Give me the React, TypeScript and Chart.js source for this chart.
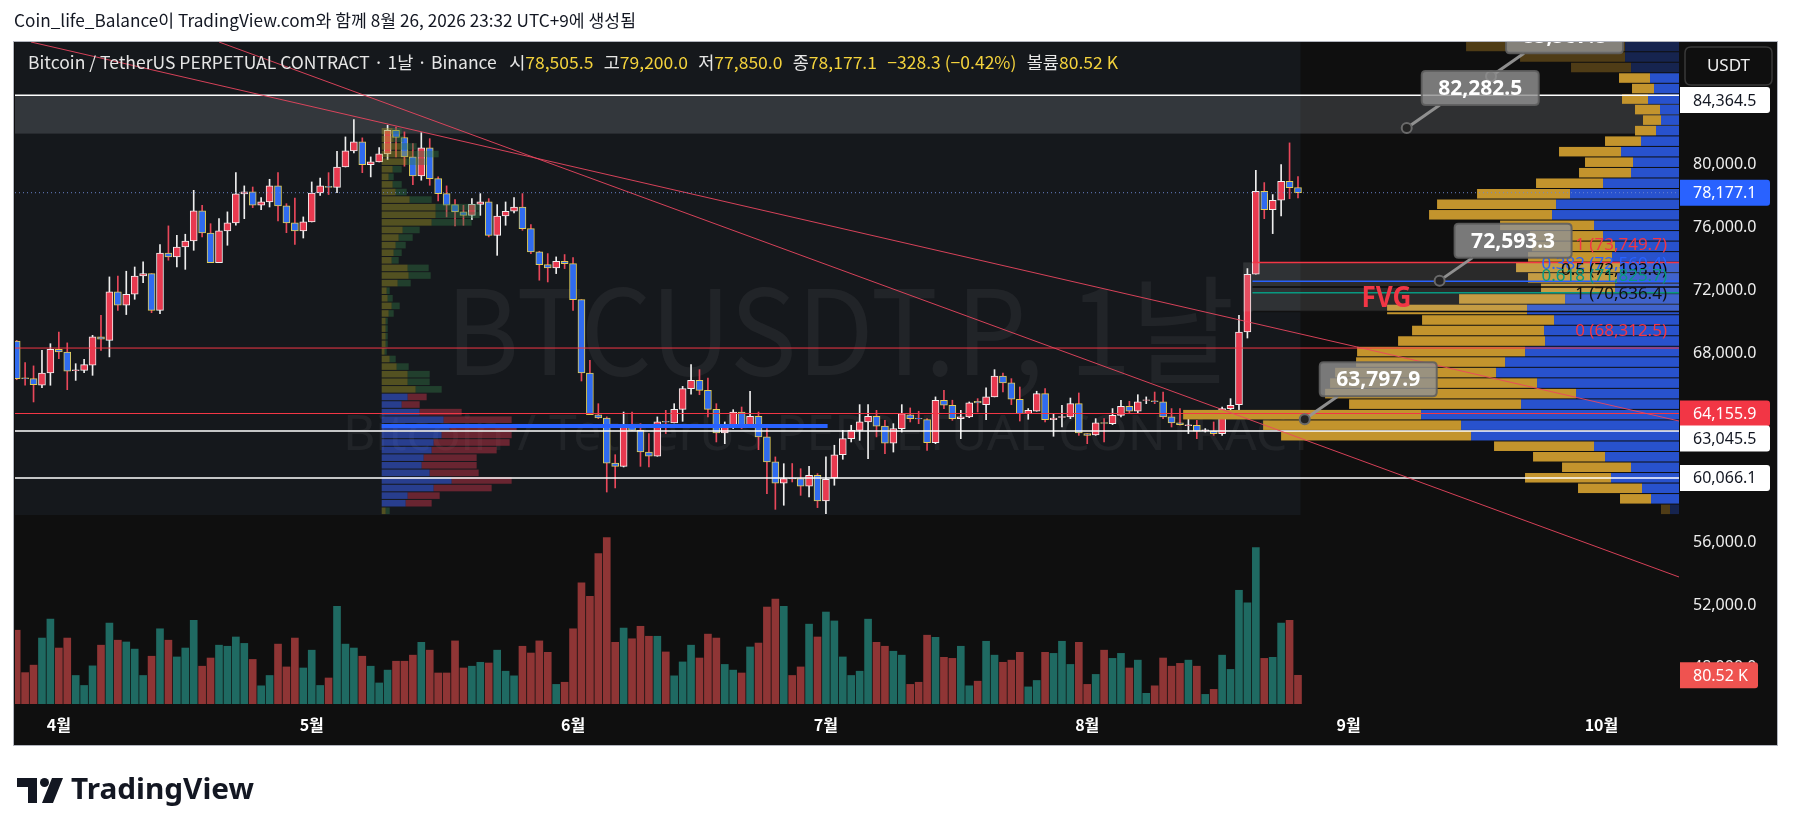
import { useEffect, useRef } from "react";
import { Chart, registerables } from "chart.js";

Chart.register(...registerables);

// ---------------- data (daily candles, index 0 = 3월 27일) ----------------
const openP = [
  68760, 66420, 66370, 65950, 66730, 68230, 68060, 66880, 66900, 67220,
  69020, 68800, 71880, 71030, 71730, 72890, 73040, 70710, 74350, 74100,
  74730, 75110, 77020, 75620, 73740, 75750, 76260, 78100, 78230, 77380,
  77590, 78610, 77340, 76260, 75750, 76320, 78160, 78580, 78520, 79810,
  80830, 81400, 79960, 80130, 80640, 82140, 81680, 80450, 79240, 81020,
  79070, 78120, 77420, 76960, 76740, 77440, 77590, 75470, 76700, 77000,
  77270, 75900, 74420, 73610, 73400, 73820, 73670, 71390, 66730, 64080,
  63870, 61010, 60800, 63300, 63090, 61710, 61440, 63660, 63560, 64420,
  65740, 66260, 65630, 64420, 62920, 63410, 64250, 63300, 63980, 62670,
  61080, 59740, 60050, 60020, 59550, 60230, 58600, 60060, 61540, 62560,
  63090, 63620, 63980, 63360, 62280, 63200, 64080, 63850, 63770, 62310,
  65000, 64680, 63830, 63940, 64930, 64720, 65210, 66540, 66100, 65060,
  64150, 64300, 65420, 63770, 63910, 63940, 64780, 62880, 62790, 63580,
  63510, 64040, 64610, 64300, 64980, 64960, 64890, 63940, 63560, 63390,
  63410, 63070, 63030, 62880, 64470, 64720, 69330, 73000, 78270, 77100,
  77700, 78900, 78505.5,
];
const highP = [
  68800, 67390, 67180, 68170, 68590, 69330, 68640, 67320, 67600, 69120,
  70390, 72830, 72890, 73190, 73460, 73780, 73040, 74880, 76070, 75470,
  75540, 78330, 77380, 76210, 76530, 76960, 79450, 78610, 78540, 77870,
  79030, 79450, 77480, 77840, 76640, 78860, 79110, 79450, 80810, 81720,
  82820, 81660, 80450, 81040, 82460, 82350, 82040, 81300, 81990, 81610,
  79180, 78610, 77740, 77380, 77800, 78120, 77800, 77420, 77590, 77870,
  78120, 76150, 74460, 74310, 74100, 74250, 74060, 71390, 67540, 64780,
  63940, 61540, 64250, 64250, 63510, 62880, 63940, 64360, 64780, 65880,
  67260, 66940, 66410, 64780, 63620, 64400, 64570, 65570, 64250, 63200,
  61400, 60970, 60980, 60650, 60800, 60340, 61400, 62140, 63090, 63410,
  64720, 64720, 64360, 63720, 63510, 64720, 64510, 64300, 63830, 65210,
  65630, 65000, 64360, 64890, 65100, 65780, 66940, 66730, 66370, 65840,
  64470, 65570, 65740, 64150, 64680, 65140, 65460, 62880, 63830, 63830,
  64470, 65000, 64930, 65350, 65210, 65520, 65520, 64470, 64470, 63940,
  63720, 63200, 63620, 64570, 65100, 70390, 73360, 79600, 78820, 78060,
  79960, 81340, 79200,
];
const lowP = [
  66300, 65950, 64890, 65800, 65950, 67640, 65670, 66260, 66750, 66580,
  68170, 67750, 70710, 70440, 71410, 72470, 70560, 70500, 73890, 73460,
  73310, 74520, 75370, 73740, 73740, 74840, 76110, 76530, 77230, 77100,
  77270, 76380, 75640, 74900, 75300, 76320, 78010, 78060, 78180, 79810,
  80700, 79450, 79180, 80130, 80280, 80450, 79860, 78690, 78970, 78650,
  77650, 76640, 76070, 76110, 76470, 76740, 75370, 74200, 76110, 76890,
  75790, 74310, 72620, 72510, 73040, 73360, 70710, 66220, 64080, 63830,
  59170, 59430, 60760, 63090, 60800, 60760, 61440, 62880, 63560, 63660,
  65380, 65350, 63940, 62350, 62240, 63200, 63200, 63300, 61860, 59070,
  58070, 58330, 59810, 58960, 58860, 58180, 57800, 59600, 61250, 62350,
  62450, 61290, 62670, 61610, 61710, 62980, 63620, 63510, 61820, 62240,
  64470, 63720, 62560, 63890, 64250, 63770, 65210, 65520, 64720, 63680,
  63790, 64300, 63620, 62710, 63300, 63830, 62770, 62240, 62770, 62350,
  63450, 63940, 64150, 64150, 64780, 64780, 63830, 63300, 63410, 62880,
  62560, 62980, 62770, 62770, 64080, 64150, 68950, 73000, 76530, 75580,
  76700, 77800, 77850,
];
const closeP = [
  66370, 66370, 65990, 66730, 68230, 68060, 66840, 66920, 67260, 69020,
  68870, 71880, 71030, 71730, 72890, 73040, 70710, 74350, 74100, 74730,
  75110, 77020, 75620, 73740, 75750, 76260, 78100, 78230, 77380, 77590,
  78610, 77340, 76260, 75750, 76320, 78160, 78610, 78520, 79810, 80830,
  81400, 79960, 80130, 80640, 82140, 81680, 80450, 79240, 81020, 79070,
  78120, 77380, 76960, 76740, 77440, 77590, 75470, 76700, 77000, 77270,
  75900, 74420, 73610, 73400, 73820, 73670, 71390, 66730, 64080, 63870,
  61010, 60800, 63300, 63090, 61710, 61440, 63620, 63600, 64420, 65740,
  66260, 65630, 64420, 62920, 63410, 64250, 63300, 63980, 62670, 61080,
  59740, 60020, 60000, 59550, 60230, 58600, 59980, 61540, 62560, 63090,
  63620, 63980, 63360, 62280, 63200, 64150, 63830, 63810, 62310, 65000,
  64680, 63830, 63940, 64830, 64830, 65210, 66540, 66100, 65060, 64150,
  64360, 65420, 63770, 63870, 63960, 64780, 62920, 62770, 63560, 63530,
  64040, 64610, 64300, 64890, 65010, 64910, 63940, 63560, 63450, 63420,
  63030, 63100, 62880, 64470, 64680, 69330, 73000, 78270, 77100, 77700,
  78900, 78500, 78177.1,
];
const volumeK = [
  207, 88, 109, 185, 238, 157, 185, 80, 52, 107,
  165, 227, 179, 174, 154, 80, 134, 211, 179, 132,
  157, 235, 106, 129, 165, 162, 188, 170, 125, 51,
  80, 168, 104, 185, 101, 151, 52, 73, 274, 168,
  157, 134, 106, 59, 95, 120, 120, 137, 173, 151,
  87, 87, 177, 101, 106, 117, 115, 151, 92, 79,
  162, 143, 177, 145, 55, 61, 211, 340, 302, 422,
  467, 173, 213, 183, 218, 190, 190, 146, 79, 118,
  165, 129, 196, 185, 111, 95, 87, 160, 171, 272,
  294, 274, 80, 104, 224, 188, 258, 233, 132, 80,
  92, 238, 173, 162, 148, 137, 55, 61, 193, 187,
  131, 128, 162, 51, 64, 176, 137, 117, 123, 145,
  48, 66, 145, 142, 176, 111, 173, 55, 83, 151,
  128, 142, 101, 123, 30, 51, 129, 106, 114, 123,
  106, 27, 41, 137, 97, 319, 284, 439, 128, 131,
  227, 235, 80.52,
];

const monthTickIdx = [5, 35, 66, 96, 127, 158, 188];
const monthLabels = ["4월", "5월", "6월", "7월", "8월", "9월", "10월"];
const priceTicks = [48000, 52000, 56000, 68000, 72000, 76000, 80000];
const xMin = -0.2;
const xMax = 197.2;
const yMin = 45710;
const yMax = 87747;
const volAxisMax = 1857;

// right-edge volume profile (rows bottom -> top)
const rvpLow = 57705;
const rvpStep = 668;
const rvpGold = [9, 31, 64, 86, 69, 72, 100, 190, 198, 238, 172, 251, 207, 161, 149, 168, 147, 132, 132, 140, 106, 74, 89, 104, 84, 83, 73, 94, 123, 119, 93, 67, 52, 48, 62, 36, 21, 18, 25, 26, 22, 31, 60, 105, 159];
const rvpBlue = [9, 28, 37, 68, 48, 74, 85, 208, 218, 258, 158, 103, 142, 183, 174, 154, 134, 135, 125, 152, 114, 64, 62, 59, 67, 64, 76, 85, 127, 123, 109, 76, 48, 46, 58, 38, 23, 18, 19, 31, 25, 29, 48, 54, 54];
const rvpFadedRows = [0, 42, 43, 44];
const rvpWidthFrac = 0.298;

// session volume profile (rows bottom -> top)
const lvpLow = 57705;
const lvpStep = 482;
const lvpStartIdx = 43.3;
const lvpUp = [4, 24, 26, 52, 70, 48, 40, 42, 50, 52, 60, 68, 62, 38, 20, 26, 34, 26, 26, 15, 8, 3, 4, 4, 4, 4, 7, 10, 6, 5, 16, 27, 26, 10, 12, 14, 17, 21, 50, 54, 54, 28, 14, 11, 7, 11, 25, 31, 19, 12, 11];
const lvpDown = [4, 26, 32, 58, 60, 49, 55, 53, 65, 76, 70, 67, 68, 42, 18, 19, 26, 22, 22, 12, 6, 2, 2, 2, 2, 2, 5, 8, 5, 3, 13, 22, 21, 7, 8, 10, 14, 17, 40, 44, 44, 22, 11, 9, 5, 9, 20, 26, 16, 10, 9];
const lvpVaFrom = 1;
const lvpVaTo = 15;
const lvpWidthFrac = 0.0811;
const lvpPocPrice = 63363;
const lvpPocEndIdx = 96.2;

// horizontal lines
const hLinePrices = [84364.5, 68312.5, 64155.9, 63045.5, 60066.1];
const hLineColors = ["#ffffff", "#f23645", "#f23645", "#ffffff", "#ffffff"];
const hLineWidths = [1.5, 1, 1, 1.5, 1.5];
const hLineLabelled = [true, false, true, true, true];
const lastPrice = 78177.1;

// trend lines [idx, price]
const trendA = [[1.7, 87747], [197.2, 63680]];
const trendB = [[24.0, 87747], [197.2, 53775]];

// zones
const bandHigh = 84364.5;
const bandLow = 81930;
const rangeEndIdx = 152.3;
const rangeLow = 57705;

// fib / FVG
const fvgStartIdx = 145.5;
const fibStartIdx = 146.6;
const fibLevels = [73749.7, 72560.4, 72193.0, 71825.7, 70636.4];
const fibColors = ["#f23645", "#2962ff", "#0a0a0a", "#089981", "#111111"];
const fibTexts = ["1 (73,749.7)", "0.382 (72,560.4)", "0.5 (72,193.0)", "0.618 (71,825.7)", "1 (70,636.4)"];
const fibZeroPrice = 68312.5;
const fibZeroText = "0 (68,312.5)";
const fvgTextIdx = 162.5;
const fvgTextPrice = 71430;

// price notes
const notePrices = [85567.8, 82282.5, 72593.3, 63797.9];
const noteIdx = [174.9, 164.9, 168.8, 152.8];

const titleText = "Coin_life_Balance이 TradingView.com와 함께 8월 26, 2026 23:32 UTC+9에 생성됨";
const legendName = "Bitcoin / TetherUS PERPETUAL CONTRACT · 1날 · Binance";
const legendO = "78,505.5";
const legendH = "79,200.0";
const legendL = "77,850.0";
const legendC = "78,177.1";
const legendChg = "−328.3 (−0.42%)";
const legendVol = "80.52 K";
const watermark1 = "BTCUSDT.P, 1날";
const watermark2 = "Bitcoin / TetherUS PERPETUAL CONTRACT";

// ---------------- helpers ----------------
const SANS = "'Noto Sans', 'Noto Sans CJK KR', sans-serif";
const KR = "'Noto Sans CJK KR', 'Noto Sans', sans-serif";

const fmtPrice = (v: number) =>
  v.toLocaleString("en-US", { minimumFractionDigits: 1, maximumFractionDigits: 1 });

function rr(ctx: CanvasRenderingContext2D, x: number, y: number, w: number, h: number, r: number[]) {
  ctx.beginPath();
  ctx.moveTo(x + r[0], y);
  ctx.lineTo(x + w - r[1], y);
  ctx.quadraticCurveTo(x + w, y, x + w, y + r[1]);
  ctx.lineTo(x + w, y + h - r[2]);
  ctx.quadraticCurveTo(x + w, y + h, x + w - r[2], y + h);
  ctx.lineTo(x + r[3], y + h);
  ctx.quadraticCurveTo(x, y + h, x, y + h - r[3]);
  ctx.lineTo(x, y + r[0]);
  ctx.quadraticCurveTo(x, y, x + r[0], y);
  ctx.closePath();
}

function fitText(ctx: CanvasRenderingContext2D, text: string, x: number, y: number, w: number, align: string) {
  const nat = ctx.measureText(text).width || 1;
  const s = w / nat;
  let ox = x;
  if (align === "center") ox = x - w / 2;
  else if (align === "right") ox = x - w;
  ctx.save();
  ctx.translate(ox, y);
  ctx.scale(s, 1);
  ctx.textAlign = "left";
  ctx.fillText(text, 0, 0);
  ctx.restore();
}

const isUp = closeP.map((c, i) => c >= openP[i]);

const tvPlugin = {
  id: "tvOverlay",
  beforeDraw(chart: any) {
    const { ctx, chartArea: a } = chart;
    const axisW = 98;
    const timeH = 41;
    ctx.save();
    ctx.fillStyle = "#ffffff";
    ctx.fillRect(0, 0, chart.width, chart.height);
    const fx = a.left - 1;
    const fy = a.top;
    const fw = a.right + axisW - fx;
    const fh = a.bottom + timeH - fy;
    ctx.fillStyle = "#0f0f0f";
    ctx.fillRect(fx, fy, fw, fh);
    ctx.strokeStyle = "#b2b5be";
    ctx.lineWidth = 1;
    ctx.strokeRect(fx - 0.5, fy - 0.5, fw + 1, fh + 1);

    // title
    ctx.fillStyle = "#131722";
    ctx.font = `17px ${KR}`;
    ctx.textBaseline = "middle";
    fitText(ctx, titleText, 14, 21, 622, "left");

    // TradingView logo
    const lx = 17;
    const ly = fy + fh + 33;
    ctx.fillStyle = "#131722";
    ctx.beginPath();
    ctx.moveTo(lx, ly);
    ctx.lineTo(lx + 20, ly);
    ctx.lineTo(lx + 20, ly + 25);
    ctx.lineTo(lx + 11, ly + 25);
    ctx.lineTo(lx + 11, ly + 9);
    ctx.lineTo(lx, ly + 9);
    ctx.closePath();
    ctx.fill();
    ctx.beginPath();
    ctx.arc(lx + 27.5, ly + 4.5, 4.5, 0, Math.PI * 2);
    ctx.fill();
    ctx.beginPath();
    ctx.moveTo(lx + 35, ly);
    ctx.lineTo(lx + 46, ly);
    ctx.lineTo(lx + 36, ly + 25);
    ctx.lineTo(lx + 25, ly + 25);
    ctx.closePath();
    ctx.fill();
    ctx.font = `bold 28px ${SANS}`;
    ctx.textBaseline = "middle";
    fitText(ctx, "TradingView", lx + 54, ly + 13, 183, "left");
    ctx.restore();
  },
  beforeDatasetsDraw(chart: any) {
    const { ctx, chartArea: a, scales } = chart;
    const X = (v: number) => scales.x.getPixelForValue(v);
    const Y = (v: number) => scales.y.getPixelForValue(v);
    ctx.save();
    ctx.beginPath();
    ctx.rect(a.left, a.top, a.right - a.left, a.bottom - a.top);
    ctx.clip();
    // visible-range box
    ctx.fillStyle = "#15181c";
    ctx.fillRect(a.left, a.top, X(rangeEndIdx) - a.left, Y(rangeLow) - a.top);
    // grey zone
    ctx.fillStyle = "rgba(175,182,190,0.2)";
    ctx.fillRect(a.left, Y(bandHigh), a.right - a.left, Y(bandLow) - Y(bandHigh));
    // watermark
    const cx = (a.left + a.right) / 2 - 7;
    const h = a.bottom - a.top;
    ctx.fillStyle = "rgba(255,255,255,0.055)";
    ctx.textBaseline = "middle";
    ctx.font = `118px ${KR}`;
    fitText(ctx, watermark1, cx, a.top + h * 0.436, 789, "center");
    ctx.font = `50px ${SANS}`;
    fitText(ctx, watermark2, cx - 11, a.top + h * 0.595, 972, "center");
    ctx.restore();
  },
  afterDatasetsDraw(chart: any) {
    const { ctx, chartArea: a, scales } = chart;
    const X = (v: number) => scales.x.getPixelForValue(v);
    const Y = (v: number) => scales.y.getPixelForValue(v);
    const W = a.right - a.left;
    ctx.save();
    ctx.beginPath();
    ctx.rect(a.left, a.top, W, a.bottom - a.top);
    ctx.clip();

    // session volume profile
    const lvpMax = Math.max(...lvpUp.map((u, i) => u + lvpDown[i]));
    const kl = (W * lvpWidthFrac) / lvpMax;
    const lx0 = X(lvpStartIdx);
    for (let j = 0; j < lvpUp.length; j++) {
      const yTop = Y(lvpLow + (j + 1) * lvpStep);
      const yBot = Y(lvpLow + j * lvpStep);
      const hh = yBot - yTop - 1;
      const inVA = j >= lvpVaFrom && j <= lvpVaTo;
      const uw = lvpUp[j] * kl;
      const dw = lvpDown[j] * kl;
      ctx.fillStyle = inVA ? "rgba(60,100,255,0.5)" : "rgba(160,150,40,0.45)";
      ctx.fillRect(lx0, yTop, uw, hh);
      ctx.fillStyle = inVA ? "rgba(190,50,70,0.5)" : "rgba(50,120,70,0.42)";
      ctx.fillRect(lx0 + uw, yTop, dw, hh);
    }
    ctx.strokeStyle = "#2962ff";
    ctx.lineWidth = 4;
    ctx.beginPath();
    ctx.moveTo(lx0, Y(lvpPocPrice));
    ctx.lineTo(X(lvpPocEndIdx), Y(lvpPocPrice));
    ctx.stroke();

    // right volume profile
    const rvpMax = Math.max(...rvpGold.map((g, i) => g + rvpBlue[i]));
    const kr = (W * rvpWidthFrac) / rvpMax;
    for (let j = 0; j < rvpGold.length; j++) {
      const yTop = Y(rvpLow + (j + 1) * rvpStep);
      const yBot = Y(rvpLow + j * rvpStep);
      const hh = yBot - yTop - 1;
      const faded = rvpFadedRows.includes(j);
      const bw = rvpBlue[j] * kr;
      const gw = rvpGold[j] * kr;
      ctx.fillStyle = faded ? "#16244f" : "#2852cd";
      ctx.fillRect(a.right - bw, yTop, bw, hh);
      ctx.fillStyle = faded ? "#4f3c16" : "#c3942d";
      ctx.fillRect(a.right - bw - gw, yTop, gw, hh);
    }

    // FVG box + fib lines
    ctx.fillStyle = "rgba(200,200,200,0.15)";
    const fTop = Y(fibLevels[0]);
    const fBot = Y(fibLevels[fibLevels.length - 1]);
    ctx.fillRect(X(fvgStartIdx), fTop, a.right - X(fvgStartIdx), fBot - fTop);
    fibLevels.forEach((p, i) => {
      ctx.strokeStyle = fibColors[i];
      ctx.lineWidth = 1.5;
      ctx.beginPath();
      ctx.moveTo(X(fibStartIdx), Y(p));
      ctx.lineTo(a.right, Y(p));
      ctx.stroke();
    });

    // horizontal lines
    hLinePrices.forEach((p, i) => {
      ctx.strokeStyle = hLineColors[i];
      ctx.lineWidth = hLineWidths[i];
      ctx.beginPath();
      ctx.moveTo(a.left, Y(p));
      ctx.lineTo(a.right, Y(p));
      ctx.stroke();
    });

    // trend lines
    ctx.strokeStyle = "rgba(235,70,95,0.9)";
    ctx.lineWidth = 1;
    [trendA, trendB].forEach((t) => {
      ctx.beginPath();
      ctx.moveTo(X(t[0][0]), Y(t[0][1]));
      ctx.lineTo(X(t[1][0]), Y(t[1][1]));
      ctx.stroke();
    });

    // last price dotted line
    ctx.strokeStyle = "rgba(110,135,210,0.95)";
    ctx.lineWidth = 1;
    ctx.setLineDash([1, 3]);
    ctx.beginPath();
    ctx.moveTo(a.left, Y(lastPrice));
    ctx.lineTo(a.right, Y(lastPrice));
    ctx.stroke();
    ctx.setLineDash([]);

    // fib labels
    ctx.font = `17px ${SANS}`;
    ctx.textAlign = "right";
    ctx.textBaseline = "middle";
    fibLevels.forEach((p, i) => {
      ctx.fillStyle = fibColors[i];
      ctx.fillText(fibTexts[i], a.right - 12, Y(p) - 17);
    });
    ctx.fillStyle = "#f23645";
    ctx.fillText(fibZeroText, a.right - 12, Y(fibZeroPrice) - 17);

    // FVG text
    ctx.font = `bold 28px ${SANS}`;
    ctx.fillStyle = "#f23645";
    ctx.textBaseline = "middle";
    fitText(ctx, "FVG", X(fvgTextIdx), Y(fvgTextPrice), 50, "center");

    // price notes
    notePrices.forEach((p, i) => {
      const ax = X(noteIdx[i]);
      const ay = Y(p);
      const bw = 117;
      const bh = 34;
      const bx = ax + 73.5 - bw / 2;
      const by = ay - 40 - bh / 2;
      ctx.strokeStyle = "rgba(150,150,150,0.95)";
      ctx.lineWidth = 3;
      ctx.beginPath();
      ctx.moveTo(bx + 18, by + bh);
      ctx.lineTo(ax, ay);
      ctx.stroke();
      rr(ctx, bx, by, bw, bh, [4, 4, 4, 4]);
      ctx.fillStyle = "rgba(145,145,145,0.82)";
      ctx.fill();
      ctx.strokeStyle = "rgba(95,95,95,0.9)";
      ctx.lineWidth = 2;
      ctx.stroke();
      ctx.fillStyle = "#ffffff";
      ctx.font = `bold 21px ${SANS}`;
      ctx.textAlign = "center";
      ctx.textBaseline = "middle";
      ctx.fillText(fmtPrice(p), bx + bw / 2, by + bh / 2 + 1);
      ctx.beginPath();
      ctx.arc(ax, ay, 5, 0, Math.PI * 2);
      ctx.fillStyle = "#242424";
      ctx.fill();
      ctx.strokeStyle = "#6a6a6a";
      ctx.lineWidth = 2;
      ctx.stroke();
    });
    ctx.restore();
  },
  afterDraw(chart: any) {
    const { ctx, chartArea: a, scales } = chart;
    const Y = (v: number) => scales.y.getPixelForValue(v);
    ctx.save();

    // USDT button
    const ux = a.right + 6;
    const uy = a.top + 5;
    rr(ctx, ux, uy, 87, 38, [6, 6, 6, 6]);
    ctx.fillStyle = "#0f0f0f";
    ctx.fill();
    ctx.strokeStyle = "#3a3a3a";
    ctx.lineWidth = 1.5;
    ctx.stroke();
    ctx.fillStyle = "#f0f0f0";
    ctx.font = `17px ${SANS}`;
    ctx.textAlign = "center";
    ctx.textBaseline = "middle";
    ctx.fillText("USDT", ux + 43.5, uy + 19);

    // price labels on the axis
    const labels: any[] = [];
    hLinePrices.forEach((p, i) => {
      if (!hLineLabelled[i]) return;
      const white = hLineColors[i] === "#ffffff";
      labels.push({ p, bg: white ? "#ffffff" : "#f23645", fg: white ? "#131722" : "#ffffff" });
    });
    labels.push({ p: lastPrice, bg: "#2962ff", fg: "#ffffff" });
    labels.sort((m, n) => n.p - m.p);
    const lh = 26;
    let minC = uy + 38 + 15;
    labels.forEach((l) => {
      const c = Math.max(Y(l.p), minC);
      minC = c + lh - 1;
      rr(ctx, a.right + 1, c - lh / 2, 90, lh, [0, 3, 3, 0]);
      ctx.fillStyle = l.bg;
      ctx.fill();
      ctx.fillStyle = l.fg;
      ctx.font = `16px ${SANS}`;
      ctx.textAlign = "left";
      ctx.textBaseline = "middle";
      ctx.fillText(fmtPrice(l.p), a.right + 14, c + 1);
    });
    // volume label
    const vc = scales.yVol.getPixelForValue(volumeK[volumeK.length - 1]);
    rr(ctx, a.right + 1, vc - lh / 2, 78, lh, [0, 3, 3, 0]);
    ctx.fillStyle = "#ef5350";
    ctx.fill();
    ctx.fillStyle = "#ffffff";
    ctx.font = `16px ${SANS}`;
    ctx.textAlign = "left";
    ctx.fillText(legendVol, a.right + 14, vc + 1);

    // legend line
    const W = "#e6e6e6";
    const YL = "#f3d23c";
    const segs: [string, string, number][] = [
      [legendName, W, 0],
      ["시", W, 12],
      [legendO, YL, 0],
      ["고", W, 10],
      [legendH, YL, 0],
      ["저", W, 10],
      [legendL, YL, 0],
      ["종", W, 10],
      [legendC, YL, 0],
      [legendChg, YL, 10],
      ["볼륨", W, 10],
      [legendVol, YL, 0],
    ];
    ctx.font = `17px ${KR}`;
    ctx.textAlign = "left";
    ctx.textBaseline = "middle";
    let total = 0;
    segs.forEach((s) => (total += s[2] + ctx.measureText(s[0]).width));
    const sc = 1090 / total;
    ctx.translate(a.left + 13, a.top + 21);
    ctx.scale(sc, 1);
    let cxp = 0;
    segs.forEach((s) => {
      cxp += s[2];
      ctx.fillStyle = s[1];
      ctx.fillText(s[0], cxp, 0);
      cxp += ctx.measureText(s[0]).width;
    });
    ctx.restore();
  },
};

export default function App() {
  const ref = useRef<HTMLCanvasElement | null>(null);
  useEffect(() => {
    if (!ref.current) return;
    Chart.defaults.font.family = SANS;
    const bodies = openP.map((o, i) => {
      const lo = Math.min(o, closeP[i]);
      const hi = Math.max(o, closeP[i]);
      return { x: i, y: [lo, Math.max(hi, lo + 45)] };
    });
    const wicks = lowP.map((l, i) => ({ x: i, y: [l, highP[i]] }));
    const vols = volumeK.map((v, i) => ({ x: i, y: v }));
    const chart = new Chart(ref.current, {
      type: "bar",
      data: {
        datasets: [
          {
            data: vols as any,
            yAxisID: "yVol",
            backgroundColor: isUp.map((u) => (u ? "#1f6a62" : "#8f3535")),
            barThickness: 7,
            grouped: false,
            order: 3,
          } as any,
          {
            data: wicks as any,
            yAxisID: "y",
            backgroundColor: isUp.map((u) => (u ? "#eeeeee" : "#e8475a")),
            barThickness: 1,
            grouped: false,
            order: 2,
          } as any,
          {
            data: bodies as any,
            yAxisID: "y",
            backgroundColor: isUp.map((u) => (u ? "#e8394f" : "#2f6bef")),
            borderColor: isUp.map((u) => (u ? "#f2f2f2" : "#e3cf58")),
            borderWidth: 1,
            borderSkipped: false,
            barThickness: 7,
            grouped: false,
            order: 1,
          } as any,
        ],
      },
      options: {
        responsive: false,
        animation: false,
        events: [],
        layout: { padding: { left: 15, top: 42, right: 16, bottom: 91 } },
        plugins: { legend: { display: false }, tooltip: { enabled: false } },
        scales: {
          x: {
            type: "linear",
            min: xMin,
            max: xMax,
            offset: false,
            grid: { display: false, drawTicks: false },
            border: { display: false },
            ticks: {
              autoSkip: false,
              maxRotation: 0,
              padding: 11,
              color: "#ffffff",
              font: { family: KR, size: 16, weight: "bold" },
              callback: (v: any) => {
                const k = monthTickIdx.indexOf(Number(v));
                return k >= 0 ? monthLabels[k] : "";
              },
            },
            afterBuildTicks: (axis: any) => {
              axis.ticks = monthTickIdx.map((v) => ({ value: v }));
            },
            afterFit: (axis: any) => {
              axis.height = 41;
            },
          },
          y: {
            type: "linear",
            position: "right",
            min: yMin,
            max: yMax,
            grid: { display: false, drawTicks: false },
            border: { display: false },
            ticks: {
              padding: 14,
              color: "#eeeeee",
              font: { family: SANS, size: 16 },
              callback: (v: any) => fmtPrice(Number(v)),
            },
            afterBuildTicks: (axis: any) => {
              axis.ticks = priceTicks.map((v) => ({ value: v }));
            },
            afterFit: (axis: any) => {
              axis.width = 98;
            },
          },
          yVol: {
            type: "linear",
            display: false,
            min: 0,
            max: volAxisMax,
          },
        },
      } as any,
      plugins: [tvPlugin as any],
    });
    return () => chart.destroy();
  }, []);
  return (
    <div style={{ position: "fixed", left: 0, top: 0, width: 1793, height: 836, background: "#ffffff" }}>
      <canvas ref={ref} width={1793} height={836} style={{ display: "block", width: 1793, height: 836 }} />
    </div>
  );
}
